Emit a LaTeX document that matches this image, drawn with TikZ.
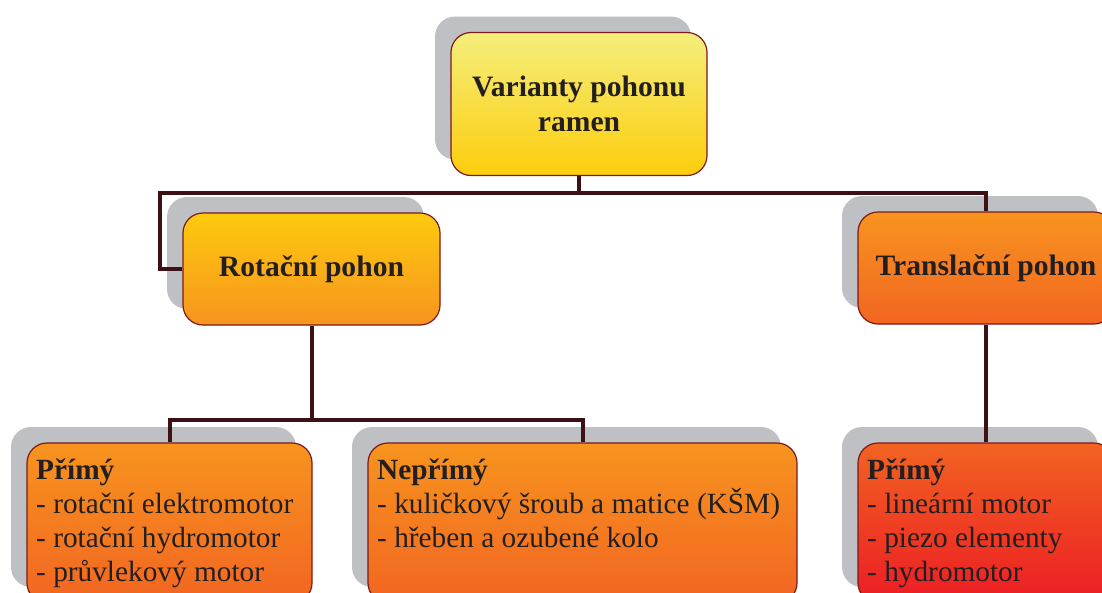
\documentclass[tikz,border=0pt]{standalone}
\usepackage{fontspec}
\setmainfont{Liberation Serif}
\usetikzlibrary{shadows}
\definecolor{shadowc}{HTML}{BFC0C3}
\definecolor{bordc}{HTML}{7A1A1C}
\definecolor{linec}{HTML}{3B1115}
\definecolor{txtc}{HTML}{231F20}
\definecolor{yA}{HTML}{F4EE7C}
\definecolor{yB}{HTML}{FDCD0C}
\definecolor{rA}{HTML}{FDCA0E}
\definecolor{rB}{HTML}{F7941E}
\definecolor{oA}{HTML}{F7941E}
\definecolor{oB}{HTML}{F26522}
\definecolor{dA}{HTML}{F26322}
\definecolor{dB}{HTML}{EC1C24}
\tikzset{
  box/.style={draw=bordc, line width=1.2pt, rounded corners=20pt, inner sep=0pt,
    general shadow={shadow xshift=-16pt, shadow yshift=16pt, fill=shadowc},
    font=\fontsize{29.6}{35}\selectfont\bfseries, text=txtc, align=center},
  listtxt/.style={anchor=base west, inner sep=0pt, align=left, text=txtc,
    font=\fontsize{29.3}{34}\selectfont},
  conn/.style={draw=linec, line width=4pt, line join=miter}
}
\begin{document}
\begin{tikzpicture}[x=1pt,y=-1pt]
\useasboundingbox (0,0) rectangle (1102,592);
\clip (0,0) rectangle (1102,592);
\node[box, minimum width=256pt, minimum height=143pt, top color=yA, bottom color=yB] (top) at (579,104) {Varianty pohonu\\ramen};
\node[box, minimum width=257pt, minimum height=112pt, top color=rA, bottom color=rB] (rot) at (311.5,269) {Rotační pohon};
\node[box, minimum width=256pt, minimum height=112pt, top color=oA, bottom color=oB] (trans) at (986,268) {Translační pohon};
\node[box, minimum width=285pt, minimum height=160pt, top color=oA, bottom color=oB] (bl) at (169.5,523) {};
\node[box, minimum width=429pt, minimum height=160pt, top color=oA, bottom color=oB] (bm) at (582.5,523) {};
\node[box, minimum width=256pt, minimum height=160pt, top color=dA, bottom color=dB] (br) at (986,523) {};
\node[listtxt] (blt) at (36,581) {\textbf{Přímý}\\- rotační elektromotor\\- rotační hydromotor\\- průvlekový motor};
\node[listtxt] (bmt) at (377,547) {\textbf{Nepřímý}\\- kuličkový šroub a matice (KŠM)\\- hřeben a ozubené kolo};
\node[listtxt] (brt) at (867,581) {\textbf{Přímý}\\- lineární motor\\- piezo elementy\\- hydromotor};
\coordinate (j1) at (579,193);
\coordinate (j2) at (160,193);
\coordinate (r1) at (311.5,420);
\draw[conn] (top.south) -- (j1) -- (j2) |- (rot.west);
\draw[conn] (j1) -| (trans.north);
\draw[conn] (rot.south) -- (r1) -| (bl.north);
\draw[conn] (r1) -| (bm.north);
\draw[conn] (trans.south) -- (br.north);
\end{tikzpicture}
\end{document}
